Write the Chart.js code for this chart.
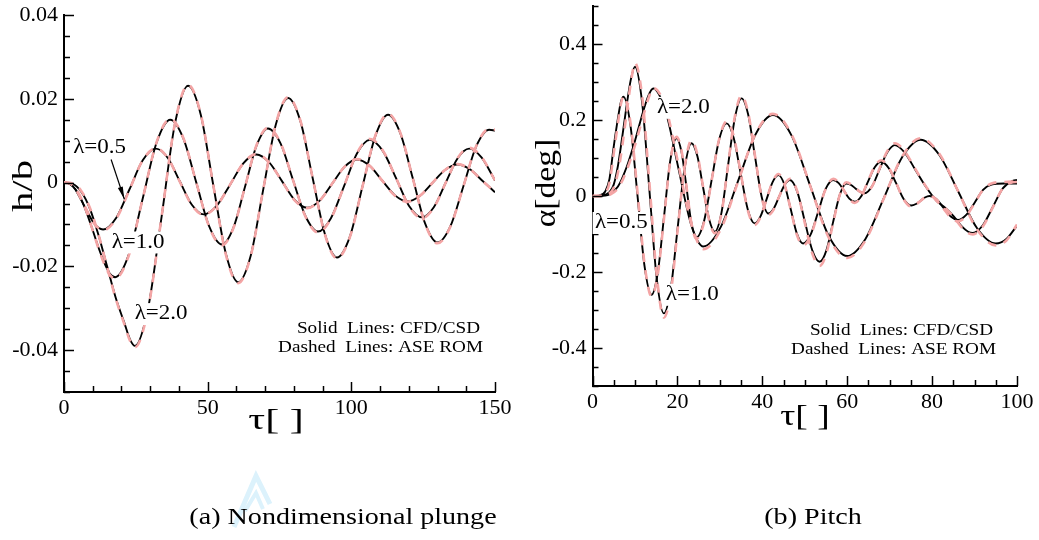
<!DOCTYPE html>
<html>
<head>
<meta charset="utf-8">
<script src="https://cdn.jsdelivr.net/npm/chart.js"></script>
<style>
  html, body { margin: 0; padding: 0; background: #fff; }
  body { width: 1039px; height: 540px; position: relative; overflow: hidden; font-family: "Liberation Serif", "Times New Roman", serif; }
  #wrapA { position: absolute; left: 0; top: 0; width: 520px; height: 470px; }
  #wrapB { position: absolute; left: 520px; top: 0; width: 519px; height: 470px; }
  #mark { position: absolute; left: 0; top: 0; }
  .cap { position: absolute; top: 503px; font-size: 24px; color: #000; white-space: nowrap; transform: translateX(-50%) scaleX(1.17); }
</style>
</head>
<body>
<div id="wrapA"><canvas id="plunge" width="520" height="470"></canvas></div>
<div id="wrapB"><canvas id="pitch" width="519" height="470"></canvas></div>
<svg id="mark" width="1039" height="540">
  <polyline points="234,527 256,476 270,504" fill="none" stroke="#dcf2fc" stroke-width="5"/>
  <polyline points="245,511 256,493 263,509" fill="none" stroke="#dcf2fc" stroke-width="4"/>
</svg>
<div class="cap" style="left:343px">(a) Nondimensional plunge</div>
<div class="cap" style="left:813px">(b) Pitch</div>
<script>
'use strict';

/* ===================== Data: (a) plunge h/b ===================== */

const plungeXTicks = [0, 50, 100, 150];
const plungeXLabels = ['0', '50', '100', '150'];
const plungeYTicks = [-0.04, -0.02, 0, 0.02, 0.04];
const plungeYLabels = ['-0.04', '-0.02', '0', '0.02', '0.04'];

const plungeTau05 = [0, 2, 4, 6, 8, 10, 12, 13.6, 18.2, 22.8, 27.4, 32, 36.2, 40.3, 44.5, 48.6, 53.2, 57.8, 62.4, 67,
  71.4, 75.8, 80.2, 84.6, 89, 93.3, 97.7, 102, 106.4, 110.7, 115.1, 119.4, 123.8, 128.2, 132.6, 137, 141.4, 145.8, 150];
const plungeCfd05 = [0, -0.0003, -0.0017, -0.0042, -0.0068, -0.0093, -0.0108, -0.0112, -0.0084, -0.0016, 0.0053, 0.0081,
  0.0058, 0.0003, -0.0053, -0.0076, -0.0055, -0.0005, 0.0046, 0.0067, 0.0048, 0.0004, -0.0041, -0.0060,
  -0.0043, -0.0003, 0.0038, 0.0055, 0.0040, 0.0005, -0.0030, -0.0045, -0.0032, -0.0001, 0.0030, 0.0043, 0.0031, 0.0003, -0.0023];
const plungeRom05 = [0, -0.0002, -0.0015, -0.0040, -0.0067, -0.0093, -0.0109, -0.0114, -0.0086, -0.0017, 0.0053, 0.0082,
  0.0058, 0.0002, -0.0054, -0.0077, -0.0055, -0.0005, 0.0046, 0.0068, 0.0048, 0.0004, -0.0042, -0.0061,
  -0.0043, -0.0003, 0.0038, 0.0056, 0.0040, 0.0005, -0.0031, -0.0046, -0.0032, -0.0001, 0.0030, 0.0044, 0.0031, 0.0003, -0.0023];

const plungeTau10 = [0, 2, 4, 6, 8, 10, 12, 14, 16, 17.8, 22.6, 27.4, 32.2, 37, 41.5, 46, 50.5, 55, 59, 63, 67, 71,
  75.4, 79.7, 84.1, 88.4, 92.9, 97.5, 102, 106.5, 111, 115.6, 120.1, 124.6, 128.7, 132.8, 136.9, 141, 145.3, 150];
const plungeCfd10 = [0, -0.0003, -0.0016, -0.0040, -0.0074, -0.0114, -0.0155, -0.0191, -0.0218, -0.0226,
  -0.0171, -0.0038, 0.0095, 0.0150, 0.0106, 0.0001, -0.0104, -0.0148, -0.0107, -0.0010, 0.0088, 0.0129,
  0.0093, 0.0006, -0.0081, -0.0117, -0.0085, -0.0008, 0.0070, 0.0102, 0.0075, 0.0010, -0.0056, -0.0083,
  -0.0059, -0.0001, 0.0057, 0.0081, 0.0060, 0.0005];
const plungeRom10 = [0, -0.0002, -0.0014, -0.0038, -0.0073, -0.0114, -0.0157, -0.0194, -0.0221, -0.0229,
  -0.0173, -0.0038, 0.0096, 0.0152, 0.0107, 0.0001, -0.0105, -0.0150, -0.0108, -0.0010, 0.0089, 0.0131,
  0.0094, 0.0006, -0.0082, -0.0119, -0.0086, -0.0008, 0.0071, 0.0104, 0.0076, 0.0010, -0.0057, -0.0085,
  -0.0060, -0.0001, 0.0058, 0.0083, 0.0061, 0.0005];

const plungeTau20 = [0, 3, 6, 9, 12, 15, 18, 21, 23, 24.7, 29.3, 34, 38.6, 43.2, 47.6, 51.9, 56.3, 60.6, 65, 69.3, 73.7, 78,
  82.3, 86.5, 90.8, 95, 99.5, 103.9, 108.4, 112.8, 117.1, 121.4, 125.7, 130, 134.5, 139, 143.5, 148, 150];
const plungeCfd20 = [0, -0.0003, -0.0022, -0.0062, -0.0125, -0.0200, -0.0275, -0.0335, -0.0375, -0.0390,
  -0.0299, -0.0080, 0.0140, 0.0231, 0.0162, -0.0004, -0.0169, -0.0238, -0.0174, -0.0018, 0.0138, 0.0202,
  0.0146, 0.0012, -0.0123, -0.0179, -0.0129, -0.0009, 0.0112, 0.0162, 0.0117, 0.0010, -0.0098, -0.0143,
  -0.0104, -0.0009, 0.0087, 0.0126, 0.0124];
const plungeRom20 = [0, -0.0002, -0.0020, -0.0060, -0.0124, -0.0201, -0.0277, -0.0338, -0.0378, -0.0393,
  -0.0301, -0.0080, 0.0141, 0.0233, 0.0163, -0.0004, -0.0171, -0.0240, -0.0175, -0.0018, 0.0139, 0.0204,
  0.0147, 0.0012, -0.0124, -0.0181, -0.0130, -0.0009, 0.0113, 0.0164, 0.0118, 0.0010, -0.0099, -0.0145,
  -0.0105, -0.0009, 0.0088, 0.0128, 0.0126];

/* ===================== Data: (b) pitch alpha ===================== */

const pitchXTicks = [0, 20, 40, 60, 80, 100];
const pitchXLabels = ['0', '20', '40', '60', '80', '100'];
const pitchYTicks = [-0.4, -0.2, 0, 0.2, 0.4];
const pitchYLabels = ['-0.4', '-0.2', '0', '0.2', '0.4'];

const pitchTau05 = [0, 1.5, 3, 4, 5, 6, 6.7, 7.3, 8.95, 10.6, 12.25, 13.9, 15.4, 16.85, 18.3, 19.8, 21, 22.15, 23.3, 24.5,
  26.3, 28.05, 29.8, 31.6, 33.25, 34.9, 36.55, 38.2, 39.6, 41, 42.4, 43.8, 45.25, 46.7, 48.15, 49.6,
  51.4, 53.15, 54.9, 56.7, 58, 59.25, 60.5, 61.8, 63.35, 64.9, 66.45, 68, 69.8, 71.55, 73.3, 75.1,
  76.2, 77.25, 78.3, 79.4, 81.1, 82.75, 84.4, 86.1, 88.1, 90.05, 92, 94, 97, 100];
const pitchCfd05 = [0, 0.001, 0.012, 0.045, 0.13, 0.205, 0.248, 0.261, 0.185, 0.001, -0.184, -0.260,
  -0.200, -0.054, 0.092, 0.152, 0.114, 0.022, -0.071, -0.109, -0.065, 0.041, 0.147, 0.191,
  0.153, 0.060, -0.034, -0.072, -0.053, -0.009, 0.036, 0.055, 0.029, -0.035, -0.099, -0.125,
  -0.101, -0.042, 0.018, 0.042, 0.034, 0.014, -0.007, -0.015, 0.000, 0.038, 0.075, 0.090,
  0.073, 0.033, -0.008, -0.025, -0.021, -0.013, -0.004, 0.000, -0.009, -0.032, -0.054, -0.063,
  -0.049, -0.017, 0.016, 0.030, 0.033, 0.033];
const pitchRom05 = [0, 0.000, 0.008, 0.035, 0.112, 0.192, 0.242, 0.263, 0.192, 0.010, -0.178, -0.264,
  -0.205, -0.058, 0.090, 0.156, 0.118, 0.024, -0.072, -0.113, -0.068, 0.040, 0.148, 0.196,
  0.158, 0.062, -0.036, -0.076, -0.055, -0.009, 0.037, 0.058, 0.030, -0.036, -0.102, -0.130,
  -0.104, -0.043, 0.018, 0.045, 0.036, 0.014, -0.008, -0.018, 0.000, 0.039, 0.077, 0.094,
  0.075, 0.034, -0.009, -0.028, -0.022, -0.013, -0.004, 0.000, -0.010, -0.034, -0.057, -0.067,
  -0.052, -0.018, 0.016, 0.033, 0.037, 0.038];

const pitchTau10 = [0, 2, 4, 5, 6, 7, 8, 9, 10, 11.7, 13.4, 15.1, 16.8, 18.45, 20.05, 21.7, 23.3, 24.7, 26.05, 27.45, 28.8,
  30.4, 31.95, 33.55, 35.1, 36.7, 38.25, 39.85, 41.4, 42.7, 43.95, 45.25, 46.5, 48.25, 50, 51.75, 53.5,
  55.1, 56.65, 58.25, 59.8, 60.9, 61.95, 63.05, 64.1, 65.9, 67.65, 69.45, 71.2,
  73.5, 76, 78.5, 81, 83, 85, 87, 88.5, 89.6, 91.95, 94.3, 96.65, 99, 100];
const pitchCfd10 = [0, 0.001, 0.010, 0.030, 0.080, 0.155, 0.235, 0.305, 0.340, 0.245, 0.016, -0.214, -0.309,
  -0.243, -0.085, 0.073, 0.139, 0.105, 0.023, -0.060, -0.094, -0.043, 0.082, 0.206, 0.257,
  0.213, 0.106, -0.002, -0.046, -0.033, -0.002, 0.029, 0.042, 0.011, -0.066, -0.142, -0.173,
  -0.143, -0.070, 0.003, 0.033, 0.029, 0.020, 0.011, 0.007, 0.026, 0.071, 0.115, 0.134,
  0.115, 0.070, 0.025, -0.012, -0.030, -0.052, -0.080, -0.094, -0.097, -0.077, -0.029, 0.020, 0.040, 0.042];
const pitchRom10 = [0, 0.000, 0.007, 0.022, 0.062, 0.130, 0.215, 0.295, 0.350, 0.262, 0.035, -0.205, -0.320,
  -0.255, -0.090, 0.075, 0.146, 0.110, 0.024, -0.062, -0.098, -0.045, 0.083, 0.210, 0.264,
  0.218, 0.108, -0.003, -0.050, -0.035, -0.002, 0.030, 0.045, 0.012, -0.070, -0.150, -0.184,
  -0.151, -0.073, 0.003, 0.036, 0.031, 0.021, 0.011, 0.006, 0.026, 0.073, 0.118, 0.139,
  0.118, 0.072, 0.026, -0.012, -0.031, -0.054, -0.083, -0.098, -0.101, -0.080, -0.030, 0.020, 0.036, 0.037];

const pitchTau20 = [0, 3, 4, 6, 8, 10, 12, 13.2, 14.3, 17.25, 20.2, 23.15, 26.1, 30.2, 34.3, 38.4, 42.5,
  46.9, 51.25, 55.6, 60, 64.3, 68.65, 73, 77.3, 81.7, 86.15, 90.6, 95, 97.5, 100];
const pitchCfd20 = [0, 0.001, 0.004, 0.025, 0.075, 0.145, 0.225, 0.265, 0.283, 0.222, 0.075, -0.072, -0.133,
  -0.082, 0.040, 0.162, 0.213, 0.159, 0.028, -0.104, -0.158, -0.113, -0.005, 0.103, 0.148,
  0.108, 0.012, -0.085, -0.125, -0.113, -0.078];
const pitchRom20 = [0, 0.000, 0.003, 0.020, 0.066, 0.133, 0.212, 0.258, 0.284, 0.232, 0.085, -0.068, -0.140,
  -0.088, 0.038, 0.163, 0.216, 0.162, 0.028, -0.108, -0.163, -0.117, -0.006, 0.105, 0.152,
  0.111, 0.012, -0.088, -0.130, -0.117, -0.075];

/* ===================== Helpers ===================== */

const FONT = '"Liberation Serif", "Times New Roman", serif';
const PINK = 'rgba(244,165,165,1)';

function points(tau, vals) {
  return tau.map((t, i) => ({ x: t, y: vals[i] }));
}

function romSet(tau, vals) {
  return {
    data: points(tau, vals), borderColor: PINK, borderWidth: 2.6, borderDash: [9, 8],
    pointRadius: 0, cubicInterpolationMode: 'monotone'
  };
}

function cfdSet(tau, vals) {
  return {
    data: points(tau, vals), borderColor: '#000', borderWidth: 1.9,
    pointRadius: 0, cubicInterpolationMode: 'monotone'
  };
}

// text drawn with an optional horizontal stretch (the source figure is a bit wide)
function text(ctx, str, x, y, size, align, sx, bg) {
  sx = sx || 1;
  ctx.save();
  ctx.font = `${size}px ${FONT}`;
  ctx.textAlign = align || 'center';
  ctx.textBaseline = 'middle';
  ctx.translate(x, y);
  ctx.scale(sx, 1);
  if (bg) {
    const w = ctx.measureText(str).width;
    const x0 = align === 'right' ? -w : align === 'left' ? 0 : -w / 2;
    ctx.fillStyle = '#fff';
    ctx.fillRect(x0 - 2, -size * 0.55, w + 4, size * 1.1);
  }
  ctx.fillStyle = '#000';
  ctx.fillText(str, 0, 0);
  ctx.restore();
}

/* overlay: inward ticks, axis titles, lambda labels, notes */
function overlay(o) {
  return {
    id: 'overlay',
    afterDatasetsDraw(chart) {
      const { ctx, chartArea: a, scales: { x, y } } = chart;
      ctx.save();
      ctx.strokeStyle = '#000';
      ctx.lineWidth = 1.5;

      const isMajor = (v, step) => Math.abs(v / step - Math.round(v / step)) < 1e-6;
      const nx = Math.round((x.max - x.min) / o.xMinor);
      for (let i = 0; i <= nx; i++) {
        const v = x.min + i * o.xMinor;
        const px = Math.round(x.getPixelForValue(v)) + 0.5;
        ctx.beginPath();
        ctx.moveTo(px, a.bottom);
        ctx.lineTo(px, a.bottom - (isMajor(v, o.xMajor) ? 10 : 6));
        ctx.stroke();
      }
      const ny = Math.round((y.max - y.min) / o.yMinor);
      for (let i = 0; i <= ny; i++) {
        const v = y.min + i * o.yMinor;
        const py = Math.round(y.getPixelForValue(v)) + 0.5;
        ctx.beginPath();
        ctx.moveTo(a.left, py);
        ctx.lineTo(a.left + (isMajor(v, o.yMajor) ? 10 : 6), py);
        ctx.stroke();
      }

      // lambda labels
      o.labels.forEach(l => {
        text(ctx, l.text, x.getPixelForValue(l.x), y.getPixelForValue(l.y), 20, 'center', 1.15, true);
      });

      // arrow
      if (o.arrow) {
        const x1 = x.getPixelForValue(o.arrow[0]), y1 = y.getPixelForValue(o.arrow[1]);
        const x2 = x.getPixelForValue(o.arrow[2]), y2 = y.getPixelForValue(o.arrow[3]);
        const ang = Math.atan2(y2 - y1, x2 - x1);
        ctx.lineWidth = 1.2;
        ctx.beginPath();
        ctx.moveTo(x1, y1);
        ctx.lineTo(x2, y2);
        ctx.stroke();
        ctx.fillStyle = '#000';
        ctx.beginPath();
        ctx.moveTo(x2, y2);
        ctx.lineTo(x2 - 13 * Math.cos(ang - 0.2), y2 - 13 * Math.sin(ang - 0.2));
        ctx.lineTo(x2 - 13 * Math.cos(ang + 0.2), y2 - 13 * Math.sin(ang + 0.2));
        ctx.closePath();
        ctx.fill();
      }

      // notes
      text(ctx, 'Solid  Lines: CFD/CSD', o.note[0], o.note[1], 17, 'right', 1.13);
      text(ctx, 'Dashed  Lines: ASE ROM', o.note[0] + 3, o.note[1] + 19, 17, 'right', 1.13);

      // axis titles
      text(ctx, o.xTitle, o.xTitlePos[0], o.xTitlePos[1], 30, 'center', o.xTitleStretch);
      ctx.save();
      ctx.translate(o.yTitlePos[0], o.yTitlePos[1]);
      ctx.rotate(-Math.PI / 2);
      text(ctx, o.yTitle, 0, 0, 30, 'center', o.yTitleStretch);
      ctx.restore();

      ctx.restore();
    }
  };
}

function axes(xMin, xMax, xTicks, xLabels, yMin, yMax, yTicks, yLabels, yWidth, xHeight) {
  const tickFont = { family: FONT, size: 22 };
  return {
    x: {
      type: 'linear', min: xMin, max: xMax,
      afterBuildTicks: s => { s.ticks = xTicks.map(v => ({ value: v })); },
      afterFit: s => { s.height = xHeight; s.paddingLeft = 0; s.paddingRight = 0; },
      ticks: { font: tickFont, color: '#000', padding: 3, maxRotation: 0, callback: v => xLabels[xTicks.indexOf(v)] },
      grid: { display: false, drawTicks: false },
      border: { display: true, color: '#000', width: 2 }
    },
    y: {
      type: 'linear', min: yMin, max: yMax,
      afterBuildTicks: s => { s.ticks = yTicks.map(v => ({ value: v })); },
      afterFit: s => { s.width = yWidth; s.paddingTop = 0; s.paddingBottom = 0; },
      ticks: { font: tickFont, color: '#000', padding: 6, callback: v => yLabels[yTicks.indexOf(v)] },
      grid: { display: false, drawTicks: false },
      border: { display: true, color: '#000', width: 2 }
    }
  };
}

const common = {
  responsive: false,
  animation: false,
  events: [],
  plugins: { legend: { display: false }, tooltip: { enabled: false } }
};

/* ===================== (a) plunge ===================== */

new Chart(document.getElementById('plunge'), {
  type: 'line',
  data: {
    datasets: [
      romSet(plungeTau05, plungeRom05), romSet(plungeTau10, plungeRom10), romSet(plungeTau20, plungeRom20),
      cfdSet(plungeTau05, plungeCfd05), cfdSet(plungeTau10, plungeCfd10), cfdSet(plungeTau20, plungeCfd20)
    ]
  },
  options: {
    ...common,
    layout: { padding: { left: 0, top: 15, right: 25, bottom: 0 } },
    scales: axes(0, 150, plungeXTicks, plungeXLabels, -0.05, 0.04, plungeYTicks, plungeYLabels, 64, 78)
  },
  plugins: [overlay({
    xMinor: 10, xMajor: 50, yMinor: 0.005, yMajor: 0.02,
    labels: [
      { text: 'λ=0.5', x: 12.4, y: 0.0083 },
      { text: 'λ=1.0', x: 25.8, y: -0.0143 },
      { text: 'λ=2.0', x: 33.8, y: -0.0314 }
    ],
    arrow: [16.4, 0.0055, 21.0, -0.0040],
    note: [480, 329],
    xTitle: 'τ[ ]', xTitlePos: [276, 421], xTitleStretch: 1.4,
    yTitle: 'h/b', yTitlePos: [24, 186], yTitleStretch: 1.35
  })]
});

/* ===================== (b) pitch ===================== */

new Chart(document.getElementById('pitch'), {
  type: 'line',
  data: {
    datasets: [
      romSet(pitchTau05, pitchRom05), romSet(pitchTau10, pitchRom10), romSet(pitchTau20, pitchRom20),
      cfdSet(pitchTau05, pitchCfd05), cfdSet(pitchTau10, pitchCfd10), cfdSet(pitchTau20, pitchCfd20)
    ]
  },
  options: {
    ...common,
    layout: { padding: { left: 0, top: 6, right: 22, bottom: 0 } },
    scales: axes(0, 100, pitchXTicks, pitchXLabels, -0.5, 0.5, pitchYTicks, pitchYLabels, 72.5, 84)
  },
  plugins: [overlay({
    xMinor: 5, xMajor: 20, yMinor: 0.05, yMajor: 0.2,
    labels: [
      { text: 'λ=2.0', x: 21.4, y: 0.232 },
      { text: 'λ=0.5', x: 6.8, y: -0.071 },
      { text: 'λ=1.0', x: 23.5, y: -0.26 }
    ],
    note: [473, 331],
    xTitle: 'τ[ ]', xTitlePos: [285, 417], xTitleStretch: 1.25,
    yTitle: 'α[deg]', yTitlePos: [27, 183], yTitleStretch: 1.12
  })]
});
</script>
</body>
</html>
